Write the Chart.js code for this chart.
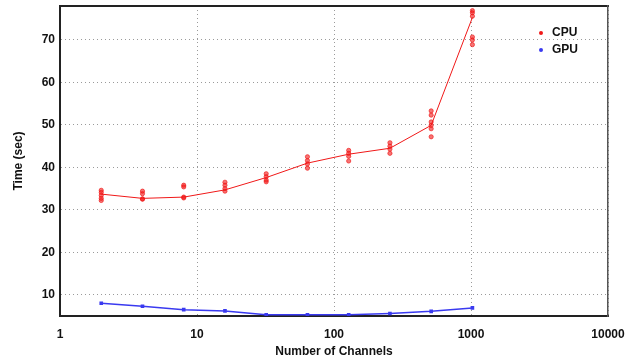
<!DOCTYPE html>
<html>
<head>
<meta charset="utf-8">
<script src="https://cdn.jsdelivr.net/npm/chart.js@4.4.1/dist/chart.umd.min.js"></script>
<style>
  html, body { margin: 0; padding: 0; background: #fff; }
  #wrap { width: 631px; height: 360px; }
</style>
</head>
<body>
<div id="wrap"><canvas id="chart" width="631" height="360"></canvas></div>
<script>
// number of channels (x), fitted CPU curve, individual CPU runs, GPU times
const channels = [2, 4, 8, 16, 32, 64, 128, 256, 512, 1024]
const cpuFit = [33.7, 32.7, 33.0, 34.7, 37.6, 41.0, 43.1, 44.5, 49.9, 75.3]
const cpuRuns = [
  [34.6, 34.1, 33.4, 32.7, 32.2],
  [34.4, 33.8, 32.6, 32.5],
  [35.8, 35.4, 33.0, 32.8],
  [36.5, 35.8, 35.0, 34.4],
  [38.5, 37.8, 37.0, 36.6],
  [42.5, 41.6, 40.8, 39.8],
  [44.0, 43.3, 42.6, 41.5],
  [45.8, 45.0, 44.3, 43.3],
  [53.3, 52.3, 50.7, 49.9, 49.1, 47.2],
  [76.9, 76.4, 75.6, 70.7, 70.0, 68.9]
]
const gpuTime = [8.0, 7.3, 6.5, 6.2, 5.3, 5.3, 5.3, 5.6, 6.1, 6.9]
const xTicks = [1, 10, 100, 1000, 10000]
const yTicks = [10, 20, 30, 40, 50, 60, 70]
const legendNames = ['CPU', 'GPU']

const FONT = "'Liberation Sans Narrow', 'Liberation Sans', Arial, sans-serif"
const red = '#f01818'
const blue = '#3a3af0'

let runPoints = []
channels.forEach((c, i) => {
  cpuRuns[i].forEach(v => runPoints.push({ x: c, y: v }))
})

// keep the plot box where the reference has it
const noPad = s => { s.paddingLeft = 0; s.paddingRight = 0; s.paddingTop = 0; s.paddingBottom = 0 }

// legend drawn inside the plot, top right
const innerLegend = {
  id: 'innerLegend',
  afterDraw(chart) {
    const ctx = chart.ctx
    const a = chart.chartArea
    const cols = [red, blue]
    ctx.save()
    ctx.font = 'bold 12px ' + FONT
    ctx.textBaseline = 'middle'
    legendNames.forEach((name, i) => {
      const x = a.right - 67
      const y = a.top + 27 + i * 17
      ctx.fillStyle = cols[i]
      ctx.beginPath()
      ctx.arc(x, y, 2, 0, Math.PI * 2)
      ctx.fill()
      ctx.fillStyle = '#111'
      ctx.fillText(name, x + 11, y)
    })
    ctx.restore()
  }
}

new Chart(document.getElementById('chart'), {
  data: {
    datasets: [
      {
        type: 'scatter',
        label: 'CPU runs',
        data: runPoints,
        pointRadius: 2.1,
        pointBackgroundColor: 'rgba(240,24,24,0.6)',
        pointBorderColor: 'rgba(240,24,24,0.85)',
        pointBorderWidth: 0.8,
        order: 2
      },
      {
        type: 'line',
        label: 'CPU',
        data: channels.map((c, i) => ({ x: c, y: cpuFit[i] })),
        borderColor: red,
        borderWidth: 1,
        pointRadius: 0,
        tension: 0,
        order: 1
      },
      {
        type: 'line',
        label: 'GPU',
        data: channels.map((c, i) => ({ x: c, y: gpuTime[i] })),
        borderColor: blue,
        borderWidth: 1.5,
        pointStyle: 'rect',
        pointRadius: 1.5,
        pointBackgroundColor: blue,
        pointBorderColor: blue,
        tension: 0,
        order: 0
      }
    ]
  },
  options: {
    responsive: false,
    animation: false,
    layout: { padding: { top: 6, right: 23, left: 0, bottom: 0 } },
    plugins: {
      legend: { display: false },
      tooltip: { enabled: false }
    },
    scales: {
      x: {
        type: 'logarithmic',
        position: 'bottom',
        min: 1,
        max: 10000,
        afterBuildTicks: s => { s.ticks = xTicks.map(v => ({ value: v })) },
        afterFit: s => { s.height = 44; noPad(s) },
        ticks: {
          color: '#111',
          font: { family: FONT, size: 12, weight: 'bold' },
          padding: 11,
          maxRotation: 0,
          callback: v => String(v)
        },
        grid: { color: '#9a9a9a', lineWidth: 1, drawTicks: false },
        border: { color: '#222', width: 2, dash: [1, 3] },
        title: {
          display: true,
          text: 'Number of Channels',
          color: '#111',
          font: { family: FONT, size: 12, weight: 'bold' },
          padding: { top: 0, bottom: 1 }
        }
      },
      y: {
        type: 'linear',
        position: 'left',
        min: 5,
        max: 78,
        afterBuildTicks: s => { s.ticks = yTicks.map(v => ({ value: v })) },
        afterFit: s => { s.width = 60; noPad(s) },
        ticks: {
          color: '#111',
          font: { family: FONT, size: 12, weight: 'bold' },
          padding: 5
        },
        grid: { color: '#9a9a9a', lineWidth: 1, drawTicks: false },
        border: { color: '#222', width: 2, dash: [1, 3] },
        title: {
          display: true,
          text: 'Time (sec)',
          color: '#111',
          font: { family: FONT, size: 12, weight: 'bold' },
          padding: { top: 11, bottom: 0 }
        }
      },
      x2: {
        type: 'logarithmic',
        position: 'top',
        min: 1,
        max: 10000,
        afterFit: s => { s.height = 0; noPad(s) },
        ticks: { display: false },
        grid: { display: false },
        border: { color: '#222', width: 2 }
      },
      y2: {
        type: 'linear',
        position: 'right',
        min: 5,
        max: 78,
        afterFit: s => { s.width = 0; noPad(s) },
        ticks: { display: false },
        grid: { display: false },
        border: { color: '#555', width: 1.5 }
      }
    }
  },
  plugins: [innerLegend]
})
</script>
</body>
</html>
